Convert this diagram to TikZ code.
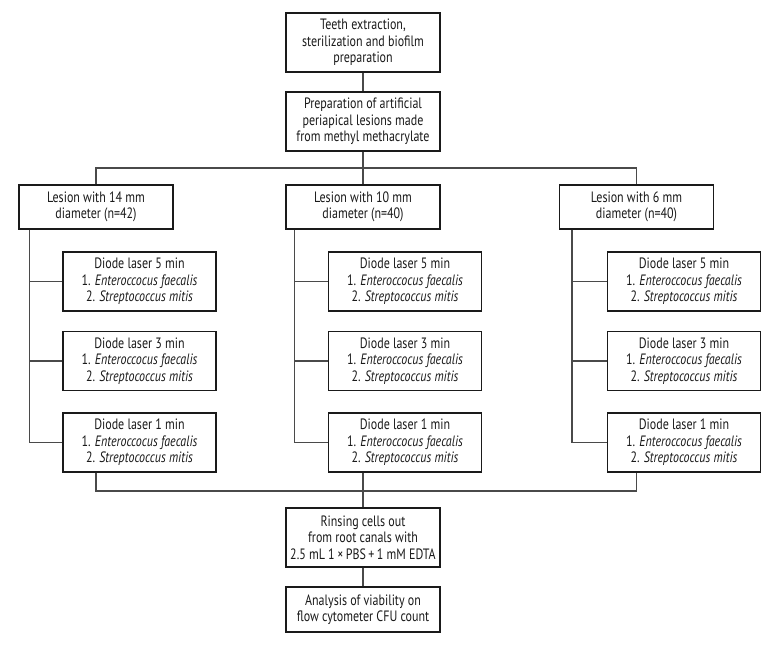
\documentclass[tikz,border=0pt]{standalone}
\usepackage{fontspec}
\setmainfont{PT Sans}[FakeStretch=0.8]
\usetikzlibrary{positioning,calc}
\definecolor{flowInk}{HTML}{1A1A1A}
\definecolor{flowLine}{HTML}{4A4A4A}
\begin{document}
\begin{tikzpicture}[x=1pt,y=-1pt,line join=miter]
\useasboundingbox[fill=white] (0,0) rectangle (780,645);
\tikzset{stage/.style={draw=flowInk,line width=1.1pt,fill=white,align=center,inner sep=0pt,text=flowInk,font=\fontsize{15}{16.5}\selectfont},link/.style={draw=flowLine,line width=1.1pt}}
\node[stage,minimum width=154pt,minimum height=59pt] (teeth) at (363,42.5) {Teeth extraction,\\sterilization and biofilm\\preparation};
\node[stage,minimum width=154pt,minimum height=59pt] (lesions) at (363,121.5) {Preparation of artificial\\periapical lesions made\\from methyl methacrylate};
\node[stage,minimum width=154pt,minimum height=44pt] (les14) at (96,207) {Lesion with 14 mm\\diameter (n=42)};
\node[stage,minimum width=154pt,minimum height=44pt] (les10) at (363,207) {Lesion with 10 mm\\diameter (n=40)};
\node[stage,minimum width=154pt,minimum height=44pt] (les6) at (636.5,207) {Lesion with 6 mm\\diameter (n=40)};
\node[stage,minimum width=153pt,minimum height=59pt] (la5) at (139.5,281.5) {Diode laser 5 min\\1. \textit{Enteroccocus faecalis}\\2. \textit{Streptococcus mitis}};
\node[stage,minimum width=153pt,minimum height=59pt] (la3) at (139.5,361) {Diode laser 3 min\\1. \textit{Enteroccocus faecalis}\\2. \textit{Streptococcus mitis}};
\node[stage,minimum width=153pt,minimum height=59pt] (la1) at (139.5,442.5) {Diode laser 1 min\\1. \textit{Enteroccocus faecalis}\\2. \textit{Streptococcus mitis}};
\node[stage,minimum width=153pt,minimum height=59pt] (lb5) at (405,281.5) {Diode laser 5 min\\1. \textit{Enteroccocus faecalis}\\2. \textit{Streptococcus mitis}};
\node[stage,minimum width=153pt,minimum height=59pt] (lb3) at (405,361) {Diode laser 3 min\\1. \textit{Enteroccocus faecalis}\\2. \textit{Streptococcus mitis}};
\node[stage,minimum width=153pt,minimum height=59pt] (lb1) at (405,442.5) {Diode laser 1 min\\1. \textit{Enteroccocus faecalis}\\2. \textit{Streptococcus mitis}};
\node[stage,minimum width=153pt,minimum height=59pt] (lc5) at (684,281.5) {Diode laser 5 min\\1. \textit{Enteroccocus faecalis}\\2. \textit{Streptococcus mitis}};
\node[stage,minimum width=153pt,minimum height=59pt] (lc3) at (684,361) {Diode laser 3 min\\1. \textit{Enteroccocus faecalis}\\2. \textit{Streptococcus mitis}};
\node[stage,minimum width=153pt,minimum height=59pt] (lc1) at (684,442.5) {Diode laser 1 min\\1. \textit{Enteroccocus faecalis}\\2. \textit{Streptococcus mitis}};
\node[stage,minimum width=154pt,minimum height=59pt] (rinse) at (363,537.5) {Rinsing cells out\\from root canals with\\2.5 mL 1\,×\,PBS\,+\,1 mM EDTA};
\node[stage,minimum width=154pt,minimum height=45pt] (count) at (363,609.5) {Analysis of viability on\\flow cytometer CFU count};
% junctions
\coordinate (splitbus) at (363,168);
\coordinate (mergebus) at (363,491);
\coordinate (spineA) at ([xshift=11pt]les14.south west);
\coordinate (spineB) at ([xshift=9pt]les10.south west);
\coordinate (spineC) at ([xshift=13pt]les6.south west);
\draw[link] (teeth) -- (lesions);
\draw[link] (lesions) -- (splitbus);
\draw[link] (les14.north) |- (splitbus) -| (les6.north);
\draw[link] (splitbus) -- (les10.north);
\draw[link] (spineA) |- (la1.west);
\draw[link] (spineA |- la5.west) -- (la5.west);
\draw[link] (spineA |- la3.west) -- (la3.west);
\draw[link] (spineB) |- (lb1.west);
\draw[link] (spineB |- lb5.west) -- (lb5.west);
\draw[link] (spineB |- lb3.west) -- (lb3.west);
\draw[link] (spineC) |- (lc1.west);
\draw[link] (spineC |- lc5.west) -- (lc5.west);
\draw[link] (spineC |- lc3.west) -- (lc3.west);
\draw[link] (les14.south |- la1.south) -- (les14.south |- mergebus) -- (les6.south |- mergebus) -- (les6.south |- lc1.south);
\draw[link] (les10.south |- lb1.south) -- (mergebus);
\draw[link] (mergebus) -- (rinse);
\draw[link] (rinse) -- (count);
\end{tikzpicture}
\end{document}
